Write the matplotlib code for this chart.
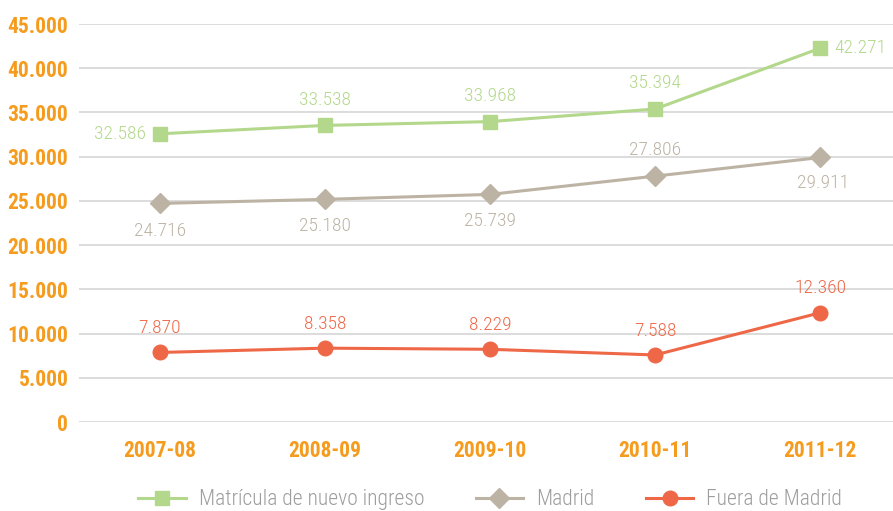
import matplotlib
matplotlib.use("Agg")
import matplotlib.pyplot as plt

categories = ["2007-08", "2008-09", "2009-10", "2010-11", "2011-12"]
matricula = [32586, 33538, 33968, 35394, 42271]
madrid = [24716, 25180, 25739, 27806, 29911]
fuera = [7870, 8358, 8229, 7588, 12360]
yticks = [0, 5000, 10000, 15000, 20000, 25000, 30000, 35000, 40000, 45000]
series_names = ["Matrícula de nuevo ingreso", "Madrid", "Fuera de Madrid"]

COND = ["Roboto Condensed", "DejaVu Sans"]

def fmt(v):
    return f"{v:,}".replace(",", ".")

GREEN = "#b3d88c"
GRAY = "#bdb3a4"
RED = "#ee6848"
ORANGE = "#f59c1e"
TXT = "#9d9d9d"

fig = plt.figure(figsize=(8.93, 5.11), dpi=100)
ax = fig.add_axes([0.089, 0.174, 0.911, 0.779])
x = list(range(len(categories)))

ax.plot(x, matricula, color=GREEN, lw=2.2, marker="s", ms=10, label=series_names[0], zorder=3)
ax.plot(x, madrid, color=GRAY, lw=2.2, marker="D", ms=10, label=series_names[1], zorder=3)
ax.plot(x, fuera, color=RED, lw=2.2, marker="o", ms=10.5, label=series_names[2], zorder=3)

fs = 14
lw_kw = dict(fontsize=fs, family=COND, fontweight="light")

def lab(i, v, dx, dy, ha, va, color):
    ax.annotate(fmt(v), (i, v), xytext=(dx, dy), textcoords="offset points",
                ha=ha, va=va, color=color, **lw_kw)

last = len(categories) - 1
for i, v in enumerate(matricula):
    if i == 0:
        lab(i, v, -10, 0, "right", "center", GREEN)
    elif i == last:
        lab(i, v, 10, 0, "left", "center", GREEN)
    else:
        lab(i, v, 0, 12, "center", "bottom", GREEN)
for i, v in enumerate(madrid):
    if i == 3:
        lab(i, v, 0, 12, "center", "bottom", GRAY)
    elif i == last:
        lab(i, v, 2, -12, "center", "top", GRAY)
    else:
        lab(i, v, 0, -13, "center", "top", GRAY)
for i, v in enumerate(fuera):
    lab(i, v, 0, 11, "center", "bottom", RED)

ax.set_ylim(0, 45000)
ax.set_xlim(-0.485, 4.44)
ax.set_yticks(yticks)
ax.set_yticklabels([fmt(t) for t in yticks], color=ORANGE, fontsize=15.5,
                   fontweight="bold", family=COND)
ax.set_xticks(x)
ax.set_xticklabels(categories, color=ORANGE, fontsize=15.5, fontweight="bold", family=COND)
ax.tick_params(axis="both", length=0)
ax.tick_params(axis="y", pad=8)
ax.tick_params(axis="x", pad=13)
ax.grid(axis="y", color="#d6d6d6", lw=1.2)
ax.set_axisbelow(True)
for s in ax.spines.values():
    s.set_visible(False)

leg = fig.legend(loc="center", bbox_to_anchor=(0.549, 0.022), ncol=3, frameon=False,
                 prop={"family": COND, "size": 15.5, "weight": "light"}, handlelength=2.2,
                 columnspacing=2.4, handletextpad=0.6, borderaxespad=0)
for t in leg.get_texts():
    t.set_color(TXT)

fig.savefig("out.png", dpi=100)
